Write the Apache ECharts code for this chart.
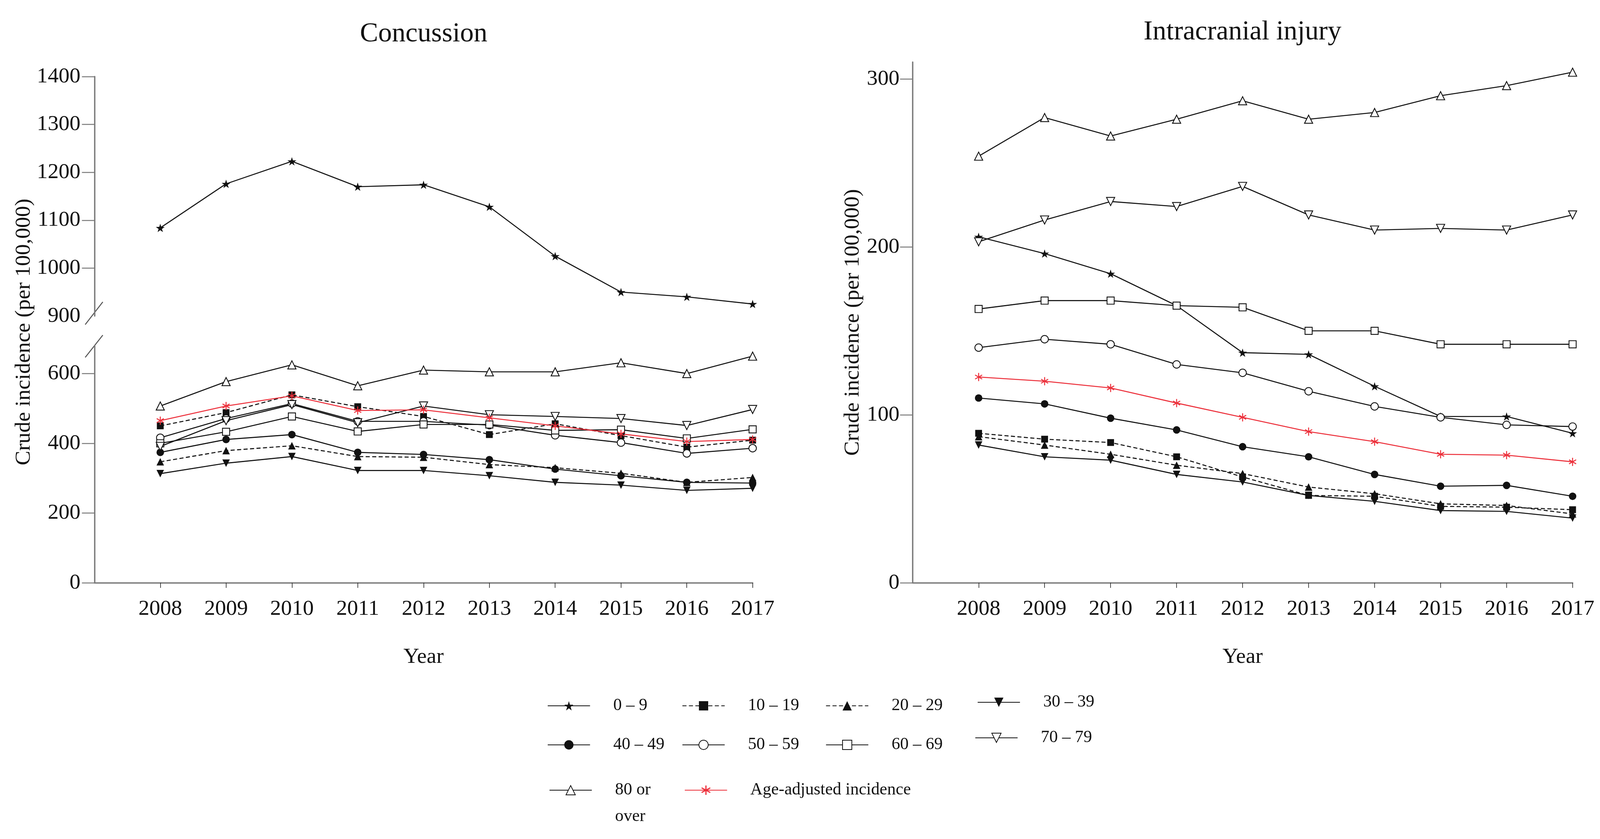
<!DOCTYPE html>
<html>
<head>
<meta charset="utf-8">
<script src="https://cdn.jsdelivr.net/npm/echarts@6.0.0/dist/echarts.min.js"></script>
<style>
html,body{margin:0;padding:0;background:#fff;overflow:hidden}
#chart{width:100vw;height:100vh}
</style>
</head>
<body>
<div id="chart"></div>
<script>
// data
const years = [2008, 2009, 2010, 2011, 2012, 2013, 2014, 2015, 2016, 2017];
const groupNames = ['0 – 9', '10 – 19', '20 – 29', '30 – 39', '40 – 49', '50 – 59', '60 – 69', '70 – 79', '80 or over', 'Age-adjusted incidence'];

// Concussion (per 100,000)
const conc0_9   = [1084, 1176, 1223, 1170, 1174, 1128, 1025, 950, 940, 925];
const conc10_19 = [450, 488, 539, 505, 477, 425, 456, 422, 389, 409];
const conc20_29 = [347, 379, 393, 362, 360, 339, 330, 314, 288, 302];
const conc30_39 = [313, 343, 362, 322, 322, 307, 288, 280, 265, 271];
const conc40_49 = [374, 411, 425, 374, 368, 353, 326, 307, 288, 286];
const conc50_59 = [416, 471, 514, 463, 463, 452, 423, 402, 371, 386];
const conc60_69 = [400, 433, 477, 434, 454, 454, 437, 439, 414, 440];
const conc70_79 = [391, 465, 511, 459, 507, 482, 477, 471, 451, 497];
const conc80    = [507, 577, 625, 565, 610, 605, 605, 631, 600, 650];
const concAdj   = [465, 507, 536, 494, 496, 473, 450, 427, 405, 411];

// Intracranial injury (per 100,000)
const intra0_9   = [206, 196, 184, 165, 137, 136, 117, 99, 99, 89];
const intra10_19 = [89, 85.5, 83.5, 75, 63, 52, 51.5, 45.5, 45, 43.5];
const intra20_29 = [87, 82, 76.5, 70, 65, 57, 53, 47, 46, 41];
const intra30_39 = [82, 75, 73, 64.5, 60, 52, 48.5, 43, 42.5, 38.5];
const intra40_49 = [110, 106.5, 98, 91, 81, 75, 64.5, 57.5, 58, 51.5];
const intra50_59 = [140, 145, 142, 130, 125, 114, 105, 98.5, 94, 93];
const intra60_69 = [163, 168, 168, 165, 164, 150, 150, 142, 142, 142];
const intra70_79 = [203, 216, 227, 224, 236, 219, 210, 211, 210, 219];
const intra80    = [254, 277, 266, 276, 287, 276, 280, 290, 296, 304];
const intraAdj   = [122.5, 120, 116, 107, 98.5, 90, 84, 76.5, 76, 72];

// tick labels
const concUpperTicks = [900, 1000, 1100, 1200, 1300, 1400];
const concLowerTicks = [0, 200, 400, 600];
const intraTicks = [0, 100, 200, 300];

const FONT = 'Liberation Serif';
const BLACK = '#111';
const RED = '#ec2f3a';
const AXIS = '#7a7a7a';

// layout is measured on the 5370 x 2148 figure and stretched to the window
const el = document.getElementById('chart');
const W = el.clientWidth, H = el.clientHeight;
const sx = W / 5370, sy = H / 2148, fs = Math.sqrt(sx * sy);
const X = v => v * sx, Y = v => v * sy, F = v => v * fs;

// marker shapes
const starPath = 'path://M50,0 L61,35 L98,35 L68,57 L79,91 L50,70 L21,91 L32,57 L2,35 L39,35 Z';
function bar(a) {
  const L = 50, w = 6, c = Math.cos(a), s = Math.sin(a);
  const p = [[L*c - w*s, L*s + w*c], [-L*c - w*s, -L*s + w*c], [-L*c + w*s, -L*s - w*c], [L*c + w*s, L*s - w*c]];
  return 'M' + p.map(q => q[0].toFixed(2) + ',' + q[1].toFixed(2)).join(' L') + ' Z';
}
const asteriskPath = 'path://' + [90, 30, -30].map(d => bar(d * Math.PI / 180)).join(' ');

const styles = {
  '0 – 9':      {symbol: starPath, size: 26, color: BLACK},
  '10 – 19':    {symbol: 'rect', size: 20, color: BLACK, dashed: true},
  '20 – 29':    {symbol: 'triangle', size: 22, color: BLACK, dashed: true},
  '30 – 39':    {symbol: 'triangle', size: 22, color: BLACK, rotate: 180},
  '40 – 49':    {symbol: 'circle', size: 22, color: BLACK},
  '50 – 59':    {symbol: 'circle', size: 22, color: BLACK, open: true},
  '60 – 69':    {symbol: 'rect', size: 21, color: BLACK, open: true},
  '70 – 79':    {symbol: 'triangle', size: 24, color: BLACK, open: true, rotate: 180},
  '80 or over': {symbol: 'triangle', size: 24, color: BLACK, open: true},
  'Age-adjusted incidence': {symbol: asteriskPath, size: 24, color: RED}
};

function makeSeries(name, vals, xi, yi) {
  const st = styles[name];
  return {
    name: name, type: 'line', xAxisIndex: xi, yAxisIndex: yi,
    data: years.map((y, i) => [y, vals[i]]),
    symbol: st.symbol, symbolSize: F(st.size), symbolRotate: st.rotate || 0, symbolKeepAspect: true,
    showAllSymbol: true,
    lineStyle: {color: st.color, width: F(3), type: st.dashed ? [F(12), F(7)] : 'solid'},
    itemStyle: {color: st.open ? '#fff' : st.color, borderColor: st.color, borderWidth: st.open ? F(2.5) : 0},
    emphasis: {disabled: true}
  };
}

const concData = [conc0_9, conc10_19, conc20_29, conc30_39, conc40_49, conc50_59, conc60_69, conc70_79, conc80, concAdj];
const intraData = [intra0_9, intra10_19, intra20_29, intra30_39, intra40_49, intra50_59, intra60_69, intra70_79, intra80, intraAdj];

const series = [];
groupNames.forEach((n, k) => {
  // 0-9 concussion values sit above the axis break
  if (k === 0) series.push(makeSeries(n, concData[k], 0, 0));
  else series.push(makeSeries(n, concData[k], 1, 1));
});
groupNames.forEach((n, k) => series.push(makeSeries(n, intraData[k], 2, 2)));

const plain = v => String(v);
const labelStyle = {color: BLACK, fontFamily: FONT, fontSize: F(64), formatter: plain};
const yTick = {show: true, length: X(42), lineStyle: {color: AXIS, width: F(3)}};

function xAxisFor(grid, visible) {
  return {
    type: 'value', gridIndex: grid, min: 2007, max: 2017, interval: 1, show: visible,
    name: visible ? 'Year' : '', nameLocation: 'middle', nameGap: Y(190) - F(32),
    nameTextStyle: {color: BLACK, fontFamily: FONT, fontSize: F(64)},
    axisLine: {show: true, onZero: false, lineStyle: {color: AXIS, width: F(4)}},
    axisTick: {show: true, length: Y(13), lineStyle: {color: '#333', width: F(2)}, customValues: years},
    axisLabel: Object.assign({margin: Y(67) - F(32), customValues: years}, labelStyle),
    splitLine: {show: false}
  };
}

// legend placement: [name, icon left, row centre]
const legendSpots = [
  ['0 – 9', 1837, 1807], ['10 – 19', 2289, 1807], ['20 – 29', 2771, 1807], ['30 – 39', 3280, 1798],
  ['40 – 49', 1837, 1907], ['50 – 59', 2289, 1907], ['60 – 69', 2771, 1907], ['70 – 79', 3272, 1889],
  ['80 or over', 1843, 2023], ['Age-adjusted incidence', 2297, 2023]
];
const legends = legendSpots.map(([n, x, cy]) => {
  const wrap = n === '80 or over';
  const lh = F(wrap ? 77 : 60);
  return {
    data: [n], left: X(x), top: Y(cy) - (wrap ? 1.5 : 0.5) * lh, padding: 0,
    itemWidth: X(142), itemHeight: F(34), selectedMode: false,
    formatter: wrap ? () => '\n80 or\nover' : undefined,
    textStyle: {color: BLACK, fontFamily: FONT, fontSize: F(50), lineHeight: lh,
      padding: [0, 0, 0, X(78) - 5]}
  };
});

const titleStyle = {color: BLACK, fontFamily: FONT, fontSize: F(80), fontWeight: 'normal'};

const chart = echarts.init(el);
chart.setOption({
  animation: false,
  backgroundColor: '#fff',
  title: [
    {text: 'Concussion', left: X(1422), top: Y(82) - F(34), textAlign: 'center', padding: 0, textStyle: titleStyle},
    {text: 'Intracranial injury', left: X(4170), top: Y(77) - F(34), textAlign: 'center', padding: 0, textStyle: titleStyle}
  ],
  legend: legends,
  grid: [
    {left: X(317), width: X(2209), top: Y(196), height: Y(613), outerBoundsMode: 'none'},
    {left: X(317), width: X(2209), top: Y(885), height: Y(607), outerBoundsMode: 'none'},
    {left: X(3063), width: X(2215), top: Y(159), height: Y(1333), outerBoundsMode: 'none'}
  ],
  xAxis: [xAxisFor(0, false), xAxisFor(1, true), xAxisFor(2, true)],
  yAxis: [
    {type: 'value', gridIndex: 0, min: 900, max: 1400, interval: 100,
      axisLine: {show: true, lineStyle: {color: AXIS, width: F(4)}},
      axisTick: Object.assign({customValues: concUpperTicks.slice(1)}, yTick),
      axisLabel: Object.assign({margin: X(47), customValues: concUpperTicks}, labelStyle),
      splitLine: {show: false}},
    {type: 'value', gridIndex: 1, min: 0, max: 680, interval: 200,
      axisLine: {show: true, lineStyle: {color: AXIS, width: F(4)}},
      axisTick: Object.assign({customValues: concLowerTicks}, yTick),
      axisLabel: Object.assign({margin: X(47), customValues: concLowerTicks}, labelStyle),
      splitLine: {show: false}},
    {type: 'value', gridIndex: 2, min: 0, max: 310, interval: 100,
      name: 'Crude incidence (per 100,000)', nameLocation: 'middle', nameGap: X(200) - F(32),
      nameTextStyle: {color: BLACK, fontFamily: FONT, fontSize: F(64)},
      axisLine: {show: true, lineStyle: {color: AXIS, width: F(4)}},
      axisTick: Object.assign({customValues: intraTicks}, yTick),
      axisLabel: Object.assign({margin: X(44), customValues: intraTicks}, labelStyle),
      splitLine: {show: false}}
  ],
  graphic: [
    {type: 'text', x: X(80), y: Y(850), rotation: Math.PI / 2,
      style: {text: 'Crude incidence (per 100,000)', fill: BLACK, font: F(64) + 'px "Liberation Serif"',
        align: 'center', verticalAlign: 'middle'}},
    // axis break marks
    {type: 'line', shape: {x1: X(286), y1: Y(831), x2: X(345), y2: Y(773)}, style: {stroke: '#555', lineWidth: F(3)}},
    {type: 'line', shape: {x1: X(286), y1: Y(915), x2: X(345), y2: Y(858)}, style: {stroke: '#555', lineWidth: F(3)}}
  ],
  series: series
});
</script>
</body>
</html>
